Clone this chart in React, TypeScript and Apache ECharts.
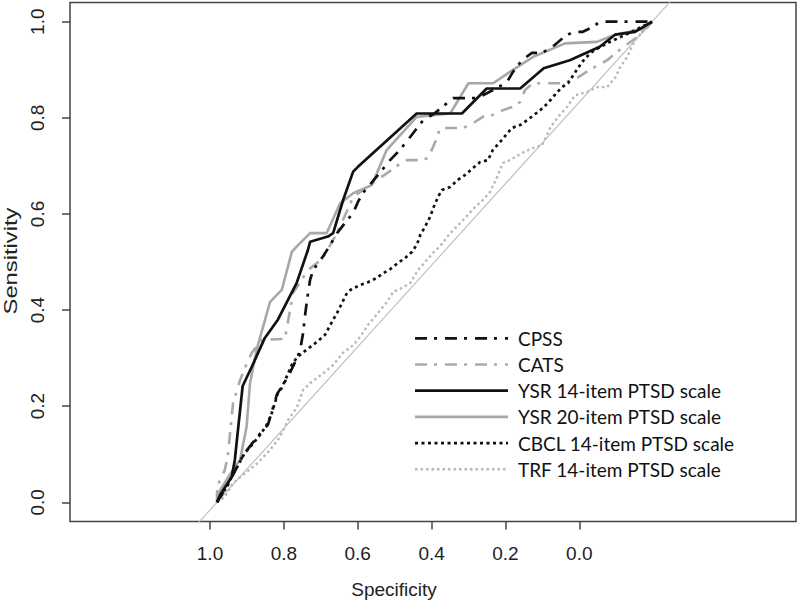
import React, { useEffect, useRef } from "react";
import * as echarts from "echarts";

// Tick labels
const specTicks = [1.0, 0.8, 0.6, 0.4, 0.2, 0.0];
const sensTicks = [0.0, 0.2, 0.4, 0.6, 0.8, 1.0];

// [specificity, sensitivity]
const cpss: number[][] = [
  [1.0, 0.0], [0.975, 0.036], [0.94, 0.098], [0.906, 0.138], [0.883, 0.161], [0.862, 0.225],
  [0.837, 0.261], [0.816, 0.3], [0.809, 0.317], [0.802, 0.352], [0.798, 0.386], [0.793, 0.421],
  [0.786, 0.463], [0.779, 0.483], [0.756, 0.512], [0.74, 0.535], [0.724, 0.56], [0.706, 0.581],
  [0.687, 0.602], [0.676, 0.625], [0.664, 0.644], [0.621, 0.691], [0.602, 0.712], [0.584, 0.729],
  [0.561, 0.754], [0.54, 0.779], [0.526, 0.795], [0.499, 0.81], [0.476, 0.827], [0.457, 0.841],
  [0.402, 0.841], [0.356, 0.862], [0.333, 0.875], [0.32, 0.895], [0.299, 0.92], [0.276, 0.935],
  [0.253, 0.935], [0.23, 0.947], [0.205, 0.966], [0.182, 0.979], [0.159, 0.979], [0.136, 0.989],
  [0.12, 1.0], [0.0, 1.0],
];

const cats: number[][] = [
  [1.0, 0.0], [1.0, 0.019], [0.995, 0.042], [0.982, 0.067], [0.975, 0.098], [0.963, 0.207],
  [0.947, 0.254], [0.931, 0.29], [0.92, 0.311], [0.897, 0.338], [0.844, 0.34], [0.832, 0.4],
  [0.825, 0.436], [0.816, 0.448], [0.791, 0.483], [0.77, 0.498], [0.756, 0.51], [0.724, 0.56],
  [0.687, 0.635], [0.655, 0.656], [0.609, 0.685], [0.568, 0.712], [0.533, 0.712], [0.515, 0.716],
  [0.499, 0.748], [0.487, 0.779], [0.434, 0.779], [0.411, 0.789], [0.389, 0.802], [0.366, 0.806],
  [0.343, 0.816], [0.32, 0.823], [0.303, 0.833], [0.292, 0.858], [0.274, 0.872], [0.205, 0.872],
  [0.172, 0.883], [0.143, 0.9], [0.103, 0.92], [0.067, 0.947], [0.034, 0.968], [0.0, 1.0],
];

const ysr14: number[][] = [
  [1.0, 0.0], [0.993, 0.015], [0.966, 0.053], [0.959, 0.088], [0.955, 0.123], [0.941, 0.242],
  [0.92, 0.282], [0.89, 0.342], [0.86, 0.38], [0.817, 0.456], [0.791, 0.525], [0.786, 0.542],
  [0.745, 0.553], [0.733, 0.56], [0.71, 0.629], [0.687, 0.688], [0.676, 0.698], [0.541, 0.809],
  [0.437, 0.809], [0.38, 0.861], [0.303, 0.861], [0.249, 0.903], [0.189, 0.92], [0.12, 0.948],
  [0.085, 0.973], [0.039, 0.979], [0.0, 1.0],
];

const ysr20: number[][] = [
  [1.0, 0.0], [0.997, 0.019], [0.959, 0.074], [0.947, 0.088], [0.932, 0.157], [0.924, 0.248],
  [0.909, 0.317], [0.878, 0.417], [0.851, 0.442], [0.828, 0.521], [0.817, 0.532], [0.786, 0.56],
  [0.748, 0.56], [0.717, 0.622], [0.687, 0.643], [0.644, 0.66], [0.61, 0.733], [0.541, 0.802],
  [0.464, 0.809], [0.422, 0.872], [0.365, 0.872], [0.326, 0.896], [0.273, 0.927], [0.2, 0.955],
  [0.127, 0.958], [0.085, 0.973], [0.012, 0.987], [0.0, 1.0],
];

const cbcl: number[][] = [
  [1.0, 0.0], [0.982, 0.026], [0.936, 0.103], [0.92, 0.119], [0.901, 0.14], [0.883, 0.165],
  [0.874, 0.186], [0.86, 0.227], [0.851, 0.238], [0.828, 0.286], [0.816, 0.302], [0.786, 0.323],
  [0.77, 0.334], [0.752, 0.348], [0.736, 0.375], [0.724, 0.394], [0.701, 0.436], [0.69, 0.444],
  [0.671, 0.452], [0.653, 0.458], [0.632, 0.467], [0.621, 0.475], [0.602, 0.485], [0.584, 0.498],
  [0.568, 0.508], [0.552, 0.521], [0.54, 0.537], [0.533, 0.556], [0.522, 0.573], [0.51, 0.594],
  [0.503, 0.612], [0.492, 0.635], [0.483, 0.65], [0.464, 0.656], [0.446, 0.671], [0.43, 0.681],
  [0.411, 0.696], [0.395, 0.708], [0.377, 0.712], [0.366, 0.733], [0.349, 0.75], [0.322, 0.779],
  [0.303, 0.785], [0.287, 0.795], [0.257, 0.816], [0.239, 0.831], [0.228, 0.843], [0.207, 0.864],
  [0.193, 0.872], [0.17, 0.904], [0.154, 0.924], [0.138, 0.937], [0.12, 0.947], [0.097, 0.958],
  [0.051, 0.977], [0.0, 1.0],
];

const trf: number[][] = [
  [1.0, 0.0], [0.982, 0.011], [0.963, 0.04], [0.906, 0.082], [0.878, 0.109], [0.855, 0.136],
  [0.837, 0.171], [0.816, 0.198], [0.802, 0.234], [0.786, 0.248], [0.752, 0.271], [0.733, 0.286],
  [0.71, 0.311], [0.687, 0.327], [0.671, 0.344], [0.653, 0.369], [0.637, 0.386], [0.621, 0.404],
  [0.609, 0.417], [0.595, 0.438], [0.575, 0.446], [0.556, 0.456], [0.538, 0.483], [0.522, 0.5],
  [0.503, 0.519], [0.487, 0.533], [0.464, 0.56], [0.441, 0.581], [0.423, 0.598], [0.407, 0.614],
  [0.389, 0.629], [0.372, 0.646], [0.356, 0.677], [0.343, 0.706], [0.326, 0.712], [0.299, 0.727],
  [0.274, 0.737], [0.253, 0.743], [0.234, 0.779], [0.216, 0.802], [0.195, 0.823], [0.177, 0.847],
  [0.149, 0.854], [0.126, 0.864], [0.103, 0.864], [0.085, 0.883], [0.074, 0.904], [0.057, 0.927],
  [0.039, 0.962], [0.021, 0.979], [0.0, 1.0],
];

const diagonal: number[][] = [[1.2, -0.2], [-0.2, 1.2]];

const legendNames = [
  "CPSS",
  "CATS",
  "YSR 14-item PTSD scale",
  "YSR 20-item PTSD scale",
  "CBCL 14-item PTSD scale",
  "TRF 14-item PTSD scale",
];

const styles = [
  { color: "#111", width: 2.7, dash: [12, 7, 3, 8] as number[] | "solid" },
  { color: "#aaaaaa", width: 2.6, dash: [12, 7, 3, 8] as number[] | "solid" },
  { color: "#111", width: 2.7, dash: "solid" as number[] | "solid" },
  { color: "#a8a8a8", width: 2.6, dash: "solid" as number[] | "solid" },
  { color: "#111", width: 2.7, dash: [3, 3.5] as number[] | "solid" },
  { color: "#b8b8b8", width: 2.4, dash: [2.5, 3] as number[] | "solid" },
];

const seriesData = [cpss, cats, ysr14, ysr20, cbcl, trf];

export default function App() {
  const ref = useRef<HTMLDivElement>(null);

  useEffect(() => {
    if (!ref.current) return;
    const chart = echarts.init(ref.current, undefined, { renderer: "svg" });
    const font = "'Liberation Sans', Arial, sans-serif";
    const legendTop = 338.3;
    const legendStep = 26.2;

    const legendGraphics: any[] = [];
    legendNames.forEach((name, i) => {
      const y = legendTop + i * legendStep;
      const s = styles[i];
      legendGraphics.push({
        type: "line",
        shape: { x1: 415, y1: y, x2: 508, y2: y },
        style: {
          stroke: s.color,
          lineWidth: s.width,
          lineDash: s.dash === "solid" ? null : s.dash,
        },
        silent: true,
      });
      legendGraphics.push({
        type: "text",
        x: 518,
        y: y,
        style: {
          text: name,
          font: "19px Lato, 'Open Sans', sans-serif",
          fill: "#111",
          verticalAlign: "middle",
          align: "left",
        },
        silent: true,
      });
    });

    const option: any = {
      animation: false,
      backgroundColor: "#ffffff",
      grid: {
        left: 70,
        right: 4,
        top: 2.5,
        bottom: 79.5,
        show: true,
        borderColor: "#444",
        borderWidth: 1.5,
        backgroundColor: "transparent",
      },
      xAxis: [
        {
          type: "value",
          inverse: true,
          min: -0.5868,
          max: 1.3791,
          position: "bottom",
          splitLine: { show: false },
          axisLine: { show: false, onZero: false },
          axisTick: {
            show: true,
            inside: false,
            length: 8,
            customValues: specTicks,
            lineStyle: { color: "#444", width: 1.5 },
          },
          axisLabel: {
            show: true,
            customValues: specTicks,
            margin: 22,
            fontSize: 19,
            fontFamily: font,
            color: "#222",
            formatter: (v: number) => v.toFixed(1),
          },
        },
        {
          type: "value",
          inverse: true,
          min: -0.331,
          max: 1.3379,
          show: false,
          axisLine: { onZero: false },
          splitLine: { show: false },
        },
      ],
      yAxis: [
        {
          type: "value",
          min: -0.04,
          max: 1.04,
          position: "left",
          splitLine: { show: false },
          axisLine: { show: false, onZero: false },
          axisTick: {
            show: true,
            inside: false,
            length: 8,
            customValues: sensTicks,
            lineStyle: { color: "#444", width: 1.5 },
          },
          axisLabel: {
            show: true,
            customValues: sensTicks,
            rotate: 90,
            margin: 23,
            fontSize: 19,
            fontFamily: font,
            color: "#222",
            formatter: (v: number) => v.toFixed(1),
          },
        },
      ],
      series: [
        {
          type: "line",
          name: "diagonal",
          xAxisIndex: 1,
          yAxisIndex: 0,
          data: diagonal,
          symbol: "none",
          clip: true,
          lineStyle: { color: "#bdbdbd", width: 1.1 },
          silent: true,
          z: 1,
        },
        ...seriesData.map((d, i) => ({
          type: "line",
          name: legendNames[i],
          xAxisIndex: 1,
          yAxisIndex: 0,
          data: d,
          symbol: "none",
          showSymbol: false,
          clip: true,
          lineStyle: {
            color: styles[i].color,
            width: styles[i].width,
            type: styles[i].dash,
          },
          z: 2 + (i === 2 || i === 0 || i === 4 ? 1 : 0),
          silent: true,
        })),
      ],
      graphic: [
        ...legendGraphics,
        {
          type: "text",
          x: 394,
          y: 589,
          style: {
            text: "Specificity",
            font: "19px " + font,
            fill: "#222",
            align: "center",
            verticalAlign: "middle",
          },
          silent: true,
        },
        {
          type: "text",
          x: 11,
          y: 261,
          rotation: Math.PI / 2,
          scaleX: 1.25,
          style: {
            text: "Sensitivity",
            font: "19px " + font,
            fill: "#222",
            align: "center",
            verticalAlign: "middle",
          },
          silent: true,
        },
      ],
    };

    chart.setOption(option);
    return () => {
      chart.dispose();
    };
  }, []);

  return (
    <div
      ref={ref}
      style={{ position: "fixed", left: 0, top: 0, width: 800, height: 601 }}
    />
  );
}
